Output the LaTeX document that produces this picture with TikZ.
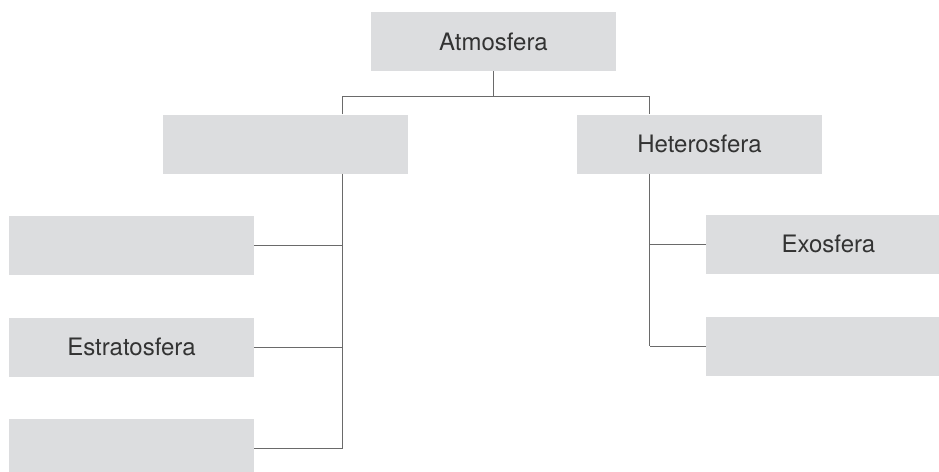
\documentclass[tikz,border=0pt]{standalone}
\usepackage{fontspec}
\setmainfont{TeX Gyre Heros}
\usepackage{tikz}
\usetikzlibrary{positioning}
\definecolor{boxgray}{HTML}{DCDDDF}
\definecolor{linegray}{HTML}{6A6A6A}
\definecolor{textgray}{HTML}{333333}

\begin{document}
\begin{tikzpicture}[
    x=1pt, y=-1pt,
    box style/.style={fill=boxgray, text=textgray, minimum width=245pt, minimum height=59pt, inner sep=0pt, font=\fontsize{24}{28}\selectfont},
    line style/.style={draw=linegray, line width=0.9pt}
]
\useasboundingbox (0,0) rectangle (939,471);
\clip (0,0) rectangle (939,471);

\node[box style] (atm) at (493.5,41.5) {Atmosfera};
\node[box style] (homo) at (285.5,144) {};
\node[box style] (hetero) at (699.5,144) {Heterosfera};

% left column
\node[box style] (tropo) at (131.5,245) {};
\node[box style] (strato) at (131.5,347) {Estratosfera};
\node[box style] (meso) at (131.5,448) {};

% right column
\node[box style] (exo) at (828.5,244) {Exosfera};
\node[box style] (termo) at (828.5,346) {};

\coordinate (lt) at (342.5,96);
\coordinate (rt) at (649.5,96);

\draw[line style] (atm.south) -- (atm.south |- lt);
\draw[line style] (homo.north -| lt) -- (lt) -- (rt) -- (hetero.north -| rt);
\draw[line style] (homo.south -| lt) -- (meso.east -| lt);
\draw[line style] (hetero.south -| rt) -- (termo.west -| rt);
\foreach \n in {tropo,strato,meso}
    \draw[line style] (\n.east) -- (\n.east -| lt);
\foreach \n in {exo,termo}
    \draw[line style] (\n.west) -- (\n.west -| rt);
\end{tikzpicture}
\end{document}
